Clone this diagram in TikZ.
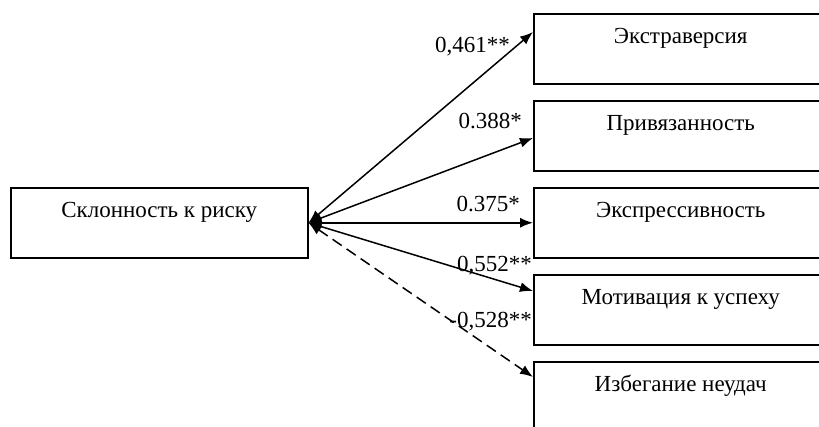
\documentclass[tikz,border=0pt]{standalone}
\usepackage{fontspec}
\setmainfont{Liberation Serif}
\usetikzlibrary{arrows.meta}

\begin{document}
\begin{tikzpicture}[x=1pt, y=-1pt,
	box/.style={draw, line width=1.5pt, anchor=north west, minimum width=294pt,
		text height=16pt, text depth=26pt, inner ysep=14pt, inner xsep=0pt,
		font=\fontsize{23}{27}\selectfont},
	link/.style={line width=1.5pt, {Latex[length=13pt,width=10pt]}-{Latex[length=13pt,width=10pt]}},
	coef/.style={anchor=base east, inner sep=0pt, font=\fontsize{23}{27}\selectfont}]
	\useasboundingbox (0,0) rectangle (819,426);
	\clip (0,0) rectangle (819,426);
	% Left
	\node[box, minimum width=297pt] (risk) at (10,187) {Склонность к риску};
	% Right
	\foreach \name/\y/\txt in {extra/13/Экстраверсия, attach/100/Привязанность,
		express/187/Экспрессивность, motiv/274/Мотивация к успеху, avoid/361/Избегание неудач} {
		\node[box] (\name) at (533,\y) {\txt};
	}
	% Links
	\draw[link] (risk.east) -- ([yshift=-19pt]extra.north west);
	\draw[link] (risk.east) -- ([yshift=-38pt]attach.north west);
	\draw[link] (risk.east) -- (express.west);
	\draw[link] (risk.east) -- ([yshift=-17pt]motiv.north west);
	\draw[link, dash pattern=on 11pt off 6pt] (risk.east) -- ([yshift=-16pt]avoid.north west);
	% Coefficients
	\node[coef] (c1) at (510,52) {0,461**};
	\node[coef] (c2) at (522,128) {0.388*};
	\node[coef] (c3) at (520,211) {0.375*};
	\node[coef] (c4) at (532,271) {0,552**};
	\node[coef] (c5) at (532,327) {-0,528**};
\end{tikzpicture}
\end{document}
